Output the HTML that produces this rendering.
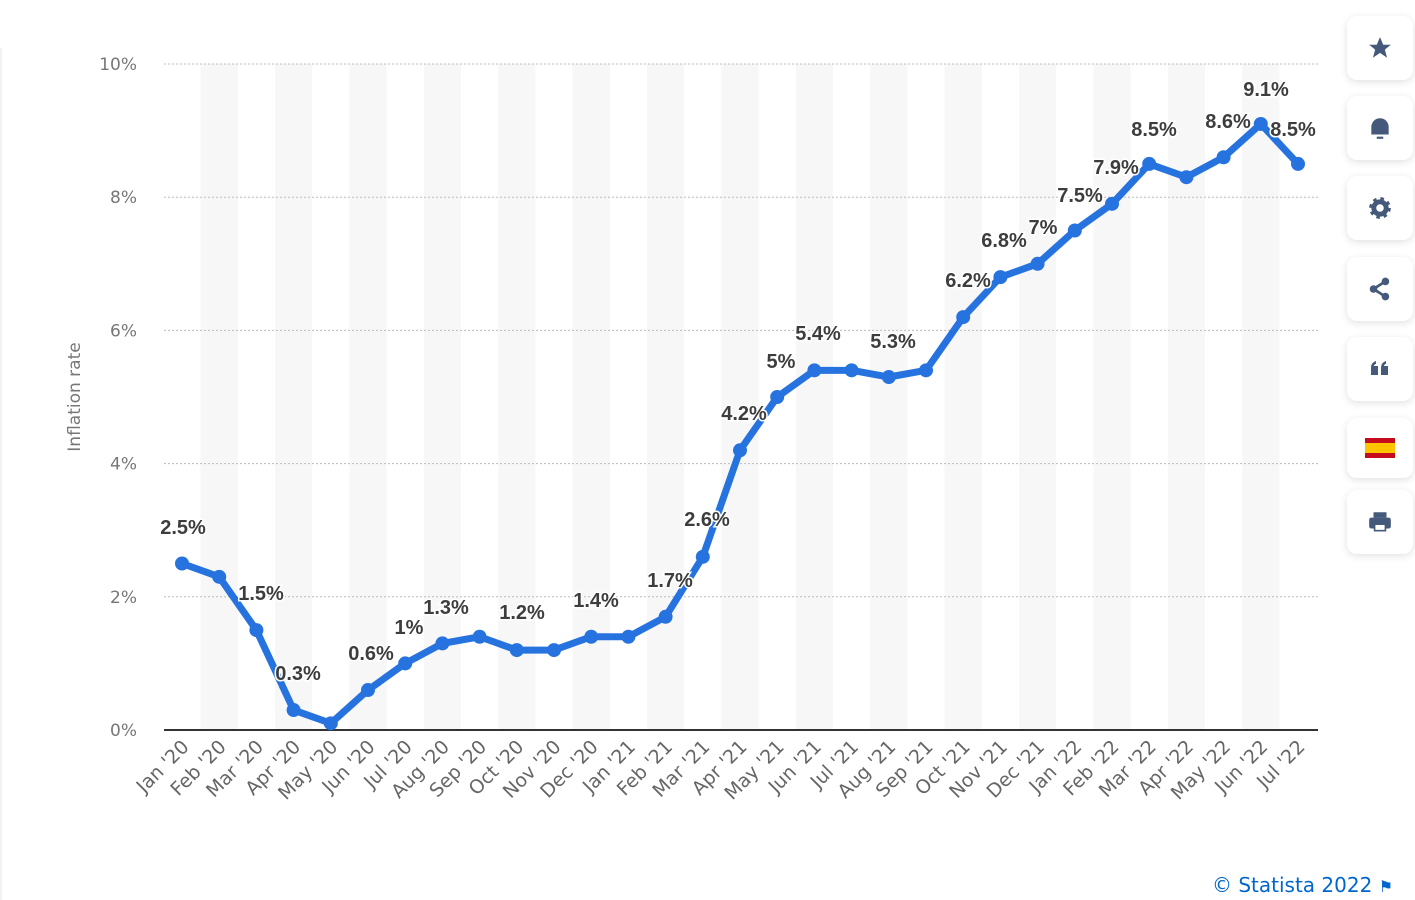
<!DOCTYPE html>
<html><head><meta charset="utf-8"><style>
body{margin:0;width:1415px;height:900px;background:#fff;overflow:hidden;font-family:"Liberation Sans","DejaVu Sans",sans-serif;position:relative}
.side{position:absolute;left:0;top:48px;width:2px;height:852px;background:#f2f2f2}
.btn{position:absolute;left:1347px;width:66px;height:64px;background:#fff;border-radius:10px;box-shadow:0 2px 8px rgba(0,0,0,.12);display:flex;align-items:center;justify-content:center}
.cr{position:absolute;left:1212px;top:873px;font-size:20px;color:#0066cc;font-family:"DejaVu Sans",sans-serif}
</style></head><body>
<div class="side"></div>
<svg id="c" width="1340" height="900" style="position:absolute;left:0;top:0" font-family="DejaVu Sans, sans-serif"></svg>
<div class="btn" style="top:16px"><svg width="26" height="26" viewBox="0 0 24 24"><path d="M12 2l3 7h7l-5.5 4.5 2 7.5L12 16.5 5.5 21l2-7.5L2 9h7z" fill="#455a7a"/></svg></div>
<div class="btn" style="top:96px"><svg width="26" height="26" viewBox="0 0 24 24"><path d="M4 18V11a8 8 0 0 1 16 0v7z" fill="#455a7a"/><rect x="9" y="20" width="6" height="2" fill="#455a7a"/></svg></div>
<div class="btn" style="top:176px"><svg width="26" height="26" viewBox="0 0 24 24"><circle cx="12" cy="12" r="8" fill="#455a7a" stroke="#455a7a" stroke-width="4" stroke-dasharray="3 3.3"/><circle cx="12" cy="12" r="3.5" fill="#fff"/></svg></div>
<div class="btn" style="top:257px"><svg width="26" height="26" viewBox="0 0 24 24"><path d="M17 5L6 12l11 7" stroke="#455a7a" stroke-width="2.5" fill="none"/><circle cx="17" cy="5" r="3.5" fill="#455a7a"/><circle cx="6" cy="12" r="3.5" fill="#455a7a"/><circle cx="17" cy="19" r="3.5" fill="#455a7a"/></svg></div>
<div class="btn" style="top:337px"><svg width="24" height="24" viewBox="0 0 24 24"><path d="M3 20v-7c0-4 2-6 5-7v3c-1 0-2 1-2 2h4v9zM13 20v-7c0-4 2-6 5-7v3c-1 0-2 1-2 2h4v9z" fill="#455a7a" transform="translate(0,-2)"/></svg></div>
<div class="btn" style="top:418px;height:60px"><svg width="30" height="20"><rect width="30" height="20" fill="#c60b1e"/><rect y="5" width="30" height="10" fill="#ffc400"/></svg></div>
<div class="btn" style="top:490px"><svg width="26" height="26" viewBox="0 0 24 24"><rect x="2" y="8" width="20" height="10" rx="2" fill="#455a7a"/><rect x="6" y="3" width="12" height="5" fill="#455a7a"/><rect x="7" y="14" width="10" height="6" fill="#fff" stroke="#455a7a" stroke-width="1.5"/></svg></div>
<div class="cr">© Statista 2022 <span style="font-size:16px">⚑</span></div>
<script>
const d=[2.5,2.3,1.5,0.3,0.1,0.6,1.0,1.3,1.4,1.2,1.2,1.4,1.4,1.7,2.6,4.2,5.0,5.4,5.4,5.3,5.4,6.2,6.8,7.0,7.5,7.9,8.5,8.3,8.6,9.1,8.5];
const m=["Jan","Feb","Mar","Apr","May","Jun","Jul","Aug","Sep","Oct","Nov","Dec"];
const X=i=>182+i*37.2, Y=v=>730-v*66.6;
let s="";
for(let i=1;i<31;i+=2)s+=`<rect x="${X(i)-18.6}" y="64" width="37.2" height="666" fill="#f7f7f7"/>`;
for(let k=1;k<=5;k++)s+=`<line x1="164" x2="1318" y1="${Y(2*k)}" y2="${Y(2*k)}" stroke="#bbb" stroke-dasharray="2 2"/>`;
for(let k=0;k<=5;k++)s+=`<text x="137" y="${Y(2*k)+6}" text-anchor="end" font-size="17" fill="#777">${2*k}%</text>`;
s+=`<line x1="164" x2="1318" y1="730" y2="730" stroke="#333" stroke-width="2"/>`;
s+=`<text transform="translate(80,397) rotate(-90)" text-anchor="middle" font-size="17" fill="#777">Inflation rate</text>`;
for(let i=0;i<31;i++){const x=X(i)+8,y=748;s+=`<text transform="translate(${x},${y}) rotate(-45)" text-anchor="end" font-size="19" fill="#666">${m[i%12]} '${20+Math.floor(i/12)}</text>`;}
s+=`<polyline fill="none" stroke="#2673e0" stroke-width="7" stroke-linejoin="round" points="${d.map((v,i)=>X(i)+','+Y(v)).join(' ')}"/>`;
d.forEach((v,i)=>s+=`<circle cx="${X(i)}" cy="${Y(v)}" r="7" fill="#2673e0"/>`);
const L=[[0,183,527,"2.5%"],[2,261,593,"1.5%"],[3,298,673,"0.3%"],[5,371,653,"0.6%"],[6,409,627,"1%"],[7,446,607,"1.3%"],[9,522,612,"1.2%"],[11,596,600,"1.4%"],[13,670,580,"1.7%"],[14,707,519,"2.6%"],[15,744,413,"4.2%"],[16,781,361,"5%"],[17,818,333,"5.4%"],[19,893,341,"5.3%"],[21,968,280,"6.2%"],[22,1004,240,"6.8%"],[23,1043,227,"7%"],[24,1080,195,"7.5%"],[25,1116,167,"7.9%"],[26,1154,129,"8.5%"],[28,1228,121,"8.6%"],[29,1266,89,"9.1%"],[30,1293,129,"8.5%"]];
L.forEach(l=>s+=`<text x="${l[1]}" y="${l[2]+7}" text-anchor="middle" font-size="20" font-weight="600" font-family="Liberation Sans, sans-serif" fill="#3d3d3d" stroke="#fff" stroke-width="3" paint-order="stroke">${l[3]}</text>`);
document.getElementById("c").innerHTML=s;
</script>
</body></html>
